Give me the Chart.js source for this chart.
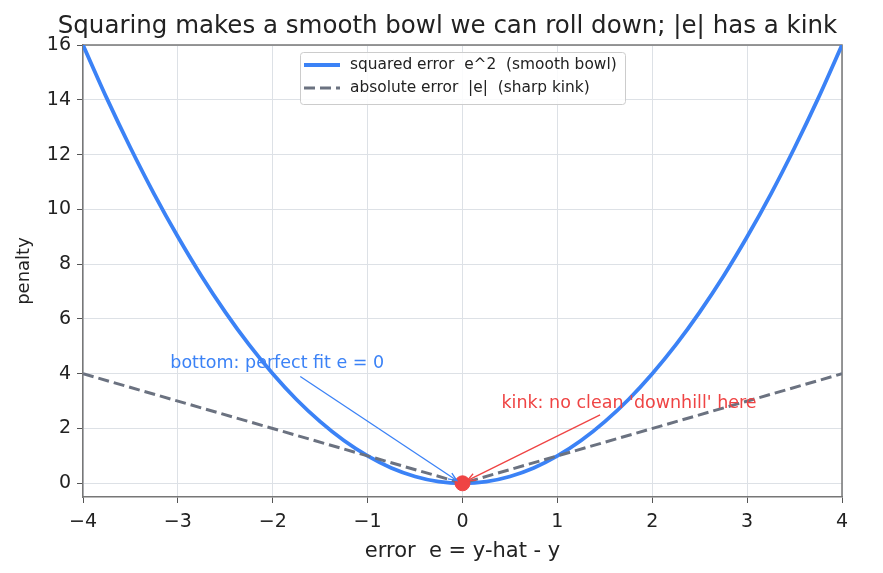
<!DOCTYPE html>
<html lang="en">
<head>
    <meta charset="UTF-8">
    <title>Squared vs absolute error</title>
    <script src="https://cdn.jsdelivr.net/npm/chart.js"></script>
    <style>
        body { margin: 0; background: #fff; }
        #wrap { width: 883px; height: 573px; }
    </style>
</head>
<body>
    <div id="wrap"><canvas id="lossChart" width="883" height="573"></canvas></div>

    <script>
        // error values sampled along the x axis
        const errors = [-4, -3.75, -3.5, -3.25, -3, -2.75, -2.5, -2.25, -2, -1.75, -1.5, -1.25, -1, -0.75, -0.5, -0.25,
                        0, 0.25, 0.5, 0.75, 1, 1.25, 1.5, 1.75, 2, 2.25, 2.5, 2.75, 3, 3.25, 3.5, 3.75, 4];
        // squared penalty
        const squaredPenalty = [16, 14.06, 12.25, 10.56, 9, 7.56, 6.25, 5.06, 4, 3.06, 2.25, 1.56, 1, 0.56, 0.25, 0.06,
                                0, 0.06, 0.25, 0.56, 1, 1.56, 2.25, 3.06, 4, 5.06, 6.25, 7.56, 9, 10.56, 12.25, 14.06, 16];
        // absolute penalty (dashed V)
        const absErrors = [-4, 0, 4];
        const absPenalty = [4, 0, 4];
        // the minimum point
        const minPoint = [{ x: 0, y: 0 }];

        const xTicks = [-4, -3, -2, -1, 0, 1, 2, 3, 4];
        const yTicks = [0, 2, 4, 6, 8, 10, 12, 14, 16];

        const chartTitle = 'Squaring makes a smooth bowl we can roll down; |e| has a kink';

        const blue = '#3b82f6';
        const grey = '#6b7280';
        const red = '#ef4444';
        const font = 'DejaVu Sans';

        const toPoints = (xs, ys) => xs.map((x, i) => ({ x: x, y: ys[i] }));
        const minus = v => String(v).replace('-', '\u2212');

        // annotations: text position, arrow start, arrow end (data units)
        const notes = [
            { text: 'bottom: perfect fit e = 0', color: blue, tx: -3.08, ty: 4.2, ax: -1.71, ay: 3.9, bx: -0.06, by: 0.1 },
            { text: "kink: no clean 'downhill' here", color: red, tx: 0.41, ty: 2.75, ax: 1.45, ay: 2.5, bx: 0.05, by: 0.1 }
        ];

        const framePlugin = {
            id: 'frame',
            beforeDatasetsDraw(chart) {
                const { ctx, chartArea: a } = chart;
                ctx.save();
                ctx.strokeStyle = '#777';
                ctx.lineWidth = 1.5;
                ctx.beginPath();
                ctx.moveTo(a.left, a.top);
                ctx.lineTo(a.right, a.top);
                ctx.lineTo(a.right, a.bottom);
                ctx.stroke();
                ctx.restore();
            },
            afterDatasetsDraw(chart) {
                const { ctx } = chart;
                const xs = chart.scales.x, ys = chart.scales.y;
                ctx.save();
                // title
                ctx.fillStyle = '#222';
                ctx.font = '24.5px "' + font + '"';
                ctx.textAlign = 'center';
                ctx.textBaseline = 'alphabetic';
                ctx.fillText(chartTitle, 447.5, 33);

                // annotations
                notes.forEach(n => {
                    const x1 = xs.getPixelForValue(n.ax), y1 = ys.getPixelForValue(n.ay);
                    const x2 = xs.getPixelForValue(n.bx), y2 = ys.getPixelForValue(n.by);
                    ctx.strokeStyle = n.color;
                    ctx.lineWidth = 1.3;
                    ctx.beginPath();
                    ctx.moveTo(x1, y1);
                    ctx.lineTo(x2, y2);
                    ctx.stroke();
                    const ang = Math.atan2(y2 - y1, x2 - x1);
                    const h = 9;
                    ctx.beginPath();
                    ctx.moveTo(x2 - h * Math.cos(ang - 0.4), y2 - h * Math.sin(ang - 0.4));
                    ctx.lineTo(x2, y2);
                    ctx.lineTo(x2 - h * Math.cos(ang + 0.4), y2 - h * Math.sin(ang + 0.4));
                    ctx.stroke();
                    ctx.fillStyle = n.color;
                    ctx.font = '17.5px "' + font + '"';
                    ctx.textAlign = 'left';
                    ctx.textBaseline = 'alphabetic';
                    ctx.fillText(n.text, xs.getPixelForValue(n.tx), ys.getPixelForValue(n.ty));
                });

                // legend box
                const lx = 300, ly = 52, lw = 325, lh = 52;
                ctx.fillStyle = 'rgba(255,255,255,0.85)';
                ctx.strokeStyle = '#cccccc';
                ctx.lineWidth = 1;
                ctx.beginPath();
                ctx.roundRect(lx + 0.5, ly + 0.5, lw, lh, 3);
                ctx.fill();
                ctx.stroke();
                const items = chart.data.datasets.slice(0, 2);
                items.forEach((ds, i) => {
                    const yy = ly + 13 + i * 23;
                    ctx.strokeStyle = ds.borderColor;
                    ctx.lineWidth = ds.borderWidth;
                    ctx.setLineDash(ds.borderDash || []);
                    ctx.beginPath();
                    ctx.moveTo(lx + 4, yy);
                    ctx.lineTo(lx + 40, yy);
                    ctx.stroke();
                    ctx.setLineDash([]);
                    ctx.fillStyle = '#222';
                    ctx.font = '15.4px "' + font + '"';
                    ctx.textAlign = 'left';
                    ctx.textBaseline = 'middle';
                    ctx.fillText(ds.label, lx + 50, yy);
                });
                ctx.restore();
            }
        };

        const ctx = document.getElementById('lossChart').getContext('2d');
        const lossChart = new Chart(ctx, {
            type: 'scatter',
            data: {
                datasets: [{
                    label: 'squared error  e^2  (smooth bowl)',
                    data: toPoints(errors, squaredPenalty),
                    showLine: true,
                    borderColor: blue,
                    borderWidth: 3.8,
                    pointRadius: 0,
                    tension: 0.3,
                    order: 2
                }, {
                    label: 'absolute error  |e|  (sharp kink)',
                    data: toPoints(absErrors, absPenalty),
                    showLine: true,
                    borderColor: grey,
                    borderWidth: 3,
                    borderDash: [11, 5],
                    pointRadius: 0,
                    order: 1
                }, {
                    label: 'minimum',
                    data: minPoint,
                    backgroundColor: red,
                    borderColor: red,
                    pointRadius: 7.5,
                    order: 0
                }]
            },
            options: {
                responsive: false,
                animation: false,
                layout: { padding: { left: 0, right: 41, top: 45, bottom: 0 } },
                plugins: {
                    legend: { display: false },
                    tooltip: { enabled: false },
                    title: { display: false }
                },
                scales: {
                    x: {
                        type: 'linear',
                        min: -4,
                        max: 4,
                        afterBuildTicks: s => { s.ticks = xTicks.map(v => ({ value: v })); },
                        afterFit: s => { s.height = 76; },
                        grid: { color: '#dde1e6', tickColor: '#555', tickLength: 6 },
                        border: { color: '#777', width: 1.5 },
                        ticks: { color: '#222', font: { family: font, size: 19 }, padding: 8, callback: minus },
                        title: { display: true, text: 'error  e = y-hat - y', color: '#222', font: { family: font, size: 21 }, padding: { top: 10, bottom: 9 } }
                    },
                    y: {
                        min: -0.5,
                        max: 16,
                        afterBuildTicks: s => { s.ticks = yTicks.map(v => ({ value: v })); },
                        afterFit: s => { s.width = 83; },
                        grid: { color: '#dde1e6', tickColor: '#555', tickLength: 6 },
                        border: { color: '#777', width: 1.5 },
                        ticks: { color: '#222', font: { family: font, size: 19 }, padding: 6, callback: minus },
                        title: { display: true, text: 'penalty', color: '#222', font: { family: font, size: 18 }, padding: { top: 14, bottom: 0 } }
                    }
                }
            },
            plugins: [framePlugin]
        });
    </script>
</body>
</html>
